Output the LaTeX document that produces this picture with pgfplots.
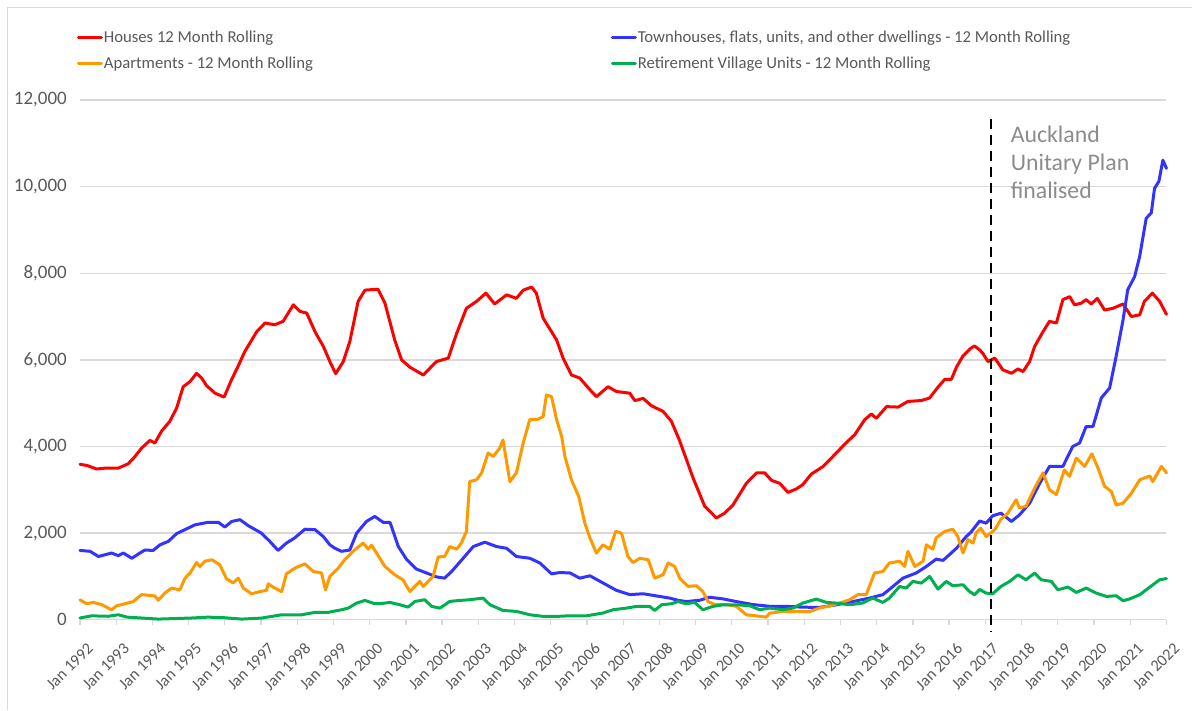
\documentclass[border=0pt]{standalone}
\usepackage{pgfplots}
\pgfplotsset{compat=1.18}
\usepackage{fontspec}
\setmainfont{Carlito}
\definecolor{cRed}{RGB}{255,0,0}
\definecolor{cBlue}{RGB}{51,51,255}
\definecolor{cOrange}{RGB}{255,153,0}
\definecolor{cGreen}{RGB}{0,176,80}
\definecolor{txt}{RGB}{89,89,89}
\definecolor{gridc}{RGB}{217,217,217}
\definecolor{annot}{RGB}{140,140,140}
\begin{document}
\begin{tikzpicture}
\path (0pt,0pt) rectangle (1192pt,710pt);
\draw[gridc, line width=1pt] (7.5pt,0pt) -- (7.5pt,702pt) -- (1192pt,702pt);
\begin{axis}[
  at={(80pt,90pt)}, anchor=south west,
  scale only axis, width=1087pt, height=520pt,
  xmin=1992, xmax=2022, ymin=0, ymax=12000,
  clip=false,
  axis x line*=bottom, axis y line*=left,
  y axis line style={draw=none},
  x axis line style={gridc, line width=1.3pt, -},
  xtick={1992,...,2022},
  xticklabels={Jan 1992,Jan 1993,Jan 1994,Jan 1995,Jan 1996,Jan 1997,Jan 1998,Jan 1999,Jan 2000,Jan 2001,Jan 2002,Jan 2003,Jan 2004,Jan 2005,Jan 2006,Jan 2007,Jan 2008,Jan 2009,Jan 2010,Jan 2011,Jan 2012,Jan 2013,Jan 2014,Jan 2015,Jan 2016,Jan 2017,Jan 2018,Jan 2019,Jan 2020,Jan 2021,Jan 2022},
  xtick align=outside, major tick length=5pt,
  xtick style={gridc, line width=1.3pt},
  ytick={0,2000,4000,6000,8000,10000,12000},
  ytick style={draw=none},
  scaled y ticks=false,
  ymajorgrids, grid style={gridc, line width=1.3pt},
  /pgf/number format/1000 sep={,},
  /pgf/number format/assume math mode=true,
  yticklabel style={font=\fontsize{19}{21}\selectfont, text=txt, anchor=east, inner sep=0pt, xshift=-13pt},
  xticklabel style={font=\fontsize{16.3}{18}\selectfont, text=txt, inner sep=0pt, xshift=6.5pt, yshift=-17pt, rotate=45, anchor=north east},
  legend columns=2,
  legend style={at={(-0.0028,1.1356)}, anchor=north west, draw=none, fill=none, inner sep=0pt, outer sep=0pt,
    font=\fontsize{16.7}{18}\selectfont, text=txt,
    nodes={inner sep=1pt, anchor=west},
    /tikz/every even column/.append style={column sep=297pt},
    row sep=11pt},
  legend image code/.code={\draw[#1, line width=3pt] (0pt,0pt) -- (23pt,0pt);},
  every axis plot/.append style={line width=3pt, line join=round, line cap=round},
]
\addplot[cRed] coordinates {
(1992.00,3590) (1992.2,3560) (1992.46,3480) (1992.7,3500) (1993.06,3500) (1993.33,3600) (1993.5,3750) (1993.70,3960) (1993.93,4140) (1994.07,4080) (1994.25,4350) (1994.48,4580) (1994.67,4890) (1994.85,5380) (1995.04,5500) (1995.22,5690) (1995.36,5580) (1995.50,5400) (1995.73,5230) (1995.98,5140) (1996.19,5550) (1996.37,5860) (1996.55,6190) (1996.88,6650) (1997.11,6850) (1997.38,6810) (1997.61,6890) (1997.89,7270) (1998.07,7120) (1998.26,7080) (1998.49,6650) (1998.72,6310) (1998.90,5960) (1999.06,5680) (1999.27,5960) (1999.45,6420) (1999.68,7350) (1999.87,7610) (2000.05,7620) (2000.23,7630) (2000.42,7310) (2000.69,6460) (2000.88,6000) (2001.11,5830) (2001.48,5650) (2001.84,5960) (2002.17,6040) (2002.40,6610) (2002.67,7190) (2002.95,7350) (2003.21,7540) (2003.45,7290) (2003.78,7500) (2004.05,7420) (2004.24,7610) (2004.47,7680) (2004.60,7540) (2004.79,6960) (2005.02,6650) (2005.16,6460) (2005.34,6040) (2005.57,5650) (2005.80,5580) (2006.08,5310) (2006.26,5150) (2006.58,5380) (2006.81,5270) (2007.18,5230) (2007.32,5060) (2007.55,5110) (2007.78,4940) (2008.10,4810) (2008.33,4580) (2008.55,4150) (2008.93,3270) (2009.25,2620) (2009.57,2350) (2009.80,2460) (2010.03,2650) (2010.40,3150) (2010.68,3390) (2010.91,3390) (2011.09,3220) (2011.32,3150) (2011.55,2940) (2011.78,3020) (2011.96,3120) (2012.19,3360) (2012.52,3540) (2012.79,3770) (2013.16,4090) (2013.39,4270) (2013.67,4620) (2013.85,4750) (2013.99,4650) (2014.27,4920) (2014.59,4910) (2014.86,5040) (2015.23,5060) (2015.46,5120) (2015.69,5370) (2015.88,5550) (2016.06,5550) (2016.20,5830) (2016.38,6090) (2016.60,6270) (2016.70,6320) (2016.84,6230) (2016.93,6150) (2017.07,5960) (2017.26,6040) (2017.48,5770) (2017.72,5690) (2017.90,5790) (2018.04,5730) (2018.22,5960) (2018.36,6310) (2018.59,6650) (2018.77,6890) (2018.96,6850) (2019.14,7390) (2019.33,7460) (2019.46,7270) (2019.65,7310) (2019.78,7390) (2019.92,7290) (2020.09,7420) (2020.29,7150) (2020.52,7190) (2020.80,7290) (2021.03,7000) (2021.26,7040) (2021.39,7350) (2021.61,7540) (2021.81,7350) (2022.0,7050)
};
\addlegendentry{Houses 12 Month Rolling}
\addplot[cBlue] coordinates {
(1992.00,1600) (1992.28,1580) (1992.51,1460) (1992.87,1540) (1993.06,1480) (1993.20,1540) (1993.43,1420) (1993.79,1610) (1994.02,1600) (1994.21,1730) (1994.44,1810) (1994.67,1990) (1994.90,2080) (1995.17,2190) (1995.54,2250) (1995.82,2250) (1996.00,2140) (1996.19,2270) (1996.42,2310) (1996.65,2170) (1997.01,2000) (1997.24,1810) (1997.47,1600) (1997.70,1770) (1997.93,1890) (1998.21,2090) (1998.49,2080) (1998.72,1920) (1998.90,1730) (1999.04,1650) (1999.22,1580) (1999.45,1610) (1999.64,2000) (1999.91,2270) (2000.14,2385) (2000.37,2250) (2000.56,2250) (2000.79,1690) (2001.02,1390) (2001.29,1170) (2001.57,1080) (2001.84,990) (2002.07,960) (2002.30,1150) (2002.58,1420) (2002.86,1690) (2003.18,1790) (2003.50,1690) (2003.78,1650) (2004.05,1460) (2004.42,1420) (2004.70,1310) (2005.02,1060) (2005.25,1090) (2005.53,1080) (2005.80,960) (2006.08,1015) (2006.44,850) (2006.81,680) (2007.18,580) (2007.55,600) (2007.92,550) (2008.28,500) (2008.51,450) (2008.74,420) (2009.11,450) (2009.39,520) (2009.76,480) (2010.12,420) (2010.58,350) (2011.05,310) (2011.50,310) (2011.96,290) (2012.42,285) (2012.88,345) (2013.34,420) (2013.80,500) (2014.17,580) (2014.45,770) (2014.72,960) (2015.09,1080) (2015.37,1230) (2015.64,1400) (2015.83,1370) (2016.20,1650) (2016.47,1920) (2016.60,2020) (2016.84,2280) (2017.02,2230) (2017.20,2400) (2017.43,2460) (2017.72,2270) (2017.94,2420) (2018.22,2690) (2018.50,3150) (2018.77,3540) (2019.14,3540) (2019.41,4000) (2019.60,4080) (2019.78,4460) (2019.97,4460) (2020.20,5120) (2020.43,5350) (2020.61,6080) (2020.80,6920) (2020.93,7620) (2021.12,7920) (2021.26,8390) (2021.44,9270) (2021.58,9390) (2021.67,9960) (2021.79,10120) (2021.90,10610) (2022.0,10420)
};
\addlegendentry{Townhouses, flats, units, and other dwellings - 12 Month Rolling}
\addplot[cOrange] coordinates {
(1992.00,460) (1992.18,370) (1992.37,400) (1992.60,350) (1992.87,230) (1993.01,320) (1993.24,370) (1993.47,420) (1993.70,580) (1994.07,550) (1994.16,450) (1994.35,620) (1994.53,730) (1994.76,690) (1994.90,960) (1995.04,1080) (1995.22,1320) (1995.31,1230) (1995.45,1350) (1995.64,1385) (1995.86,1270) (1996.05,940) (1996.23,850) (1996.37,960) (1996.51,730) (1996.74,600) (1996.97,650) (1997.15,680) (1997.20,830) (1997.34,750) (1997.57,650) (1997.70,1060) (1997.93,1190) (1998.21,1290) (1998.44,1115) (1998.67,1080) (1998.78,690) (1998.90,1000) (1999.13,1190) (1999.31,1385) (1999.54,1580) (1999.82,1770) (1999.96,1630) (2000.05,1720) (2000.19,1540) (2000.42,1230) (2000.69,1040) (2000.92,920) (2001.11,650) (2001.38,885) (2001.48,770) (2001.75,1000) (2001.89,1450) (2002.07,1460) (2002.21,1690) (2002.40,1630) (2002.53,1770) (2002.67,2040) (2002.76,3190) (2002.95,3230) (2003.09,3390) (2003.27,3850) (2003.41,3770) (2003.59,3960) (2003.68,4150) (2003.87,3190) (2004.05,3390) (2004.24,4090) (2004.42,4620) (2004.65,4630) (2004.79,4690) (2004.88,5190) (2005.02,5150) (2005.16,4620) (2005.30,4230) (2005.39,3770) (2005.57,3230) (2005.77,2850) (2005.94,2230) (2006.08,1890) (2006.26,1540) (2006.44,1730) (2006.63,1630) (2006.79,2040) (2006.95,2000) (2007.13,1460) (2007.27,1320) (2007.46,1420) (2007.69,1385) (2007.87,960) (2008.10,1040) (2008.24,1310) (2008.42,1230) (2008.56,960) (2008.79,770) (2009.02,785) (2009.20,650) (2009.34,420) (2009.53,350) (2009.85,350) (2010.12,310) (2010.40,115) (2010.68,90) (2010.95,60) (2011.04,150) (2011.41,190) (2011.78,190) (2012.15,190) (2012.42,270) (2012.70,320) (2012.97,385) (2013.25,460) (2013.48,580) (2013.71,580) (2013.85,885) (2013.94,1080) (2014.17,1115) (2014.35,1310) (2014.63,1350) (2014.77,1230) (2014.86,1580) (2015.05,1230) (2015.28,1350) (2015.37,1730) (2015.55,1630) (2015.64,1890) (2015.88,2040) (2016.10,2090) (2016.24,1920) (2016.38,1540) (2016.52,1850) (2016.66,1770) (2016.74,2000) (2016.87,2115) (2017.02,1920) (2017.14,2000) (2017.26,2080) (2017.43,2320) (2017.62,2460) (2017.85,2770) (2017.94,2580) (2018.12,2620) (2018.36,3040) (2018.59,3390) (2018.77,3000) (2018.96,2890) (2019.18,3460) (2019.32,3310) (2019.51,3730) (2019.74,3540) (2019.94,3830) (2020.11,3500) (2020.29,3080) (2020.48,2960) (2020.61,2650) (2020.80,2690) (2021.03,2920) (2021.26,3230) (2021.54,3320) (2021.62,3190) (2021.86,3540) (2022.0,3390)
};
\addlegendentry{Apartments - 12 Month Rolling}
\addplot[cGreen] coordinates {
(1992.00,40) (1992.32,90) (1992.78,80) (1993.06,115) (1993.3,60) (1993.7,40) (1994.16,15) (1995.08,40) (1995.54,60) (1996.00,46) (1996.46,15) (1997.01,38) (1997.57,115) (1998.12,115) (1998.49,170) (1998.85,170) (1999.22,230) (1999.41,270) (1999.64,385) (1999.87,446) (2000.14,370) (2000.28,370) (2000.56,400) (2000.83,346) (2001.06,292) (2001.25,423) (2001.52,462) (2001.71,308) (2001.94,269) (2002.21,423) (2002.49,446) (2002.76,462) (2003.13,500) (2003.32,346) (2003.68,215) (2004.05,192) (2004.42,115) (2004.79,77) (2005.16,77) (2005.53,92) (2005.99,92) (2006.44,154) (2006.72,231) (2007.09,269) (2007.37,308) (2007.73,308) (2007.87,215) (2008.06,346) (2008.33,369) (2008.51,420) (2008.74,369) (2008.97,400) (2009.20,231) (2009.48,308) (2009.76,346) (2010.12,346) (2010.49,323) (2010.77,231) (2011.04,269) (2011.41,231) (2011.68,269) (2011.96,385) (2012.33,477) (2012.61,400) (2012.88,385) (2013.25,346) (2013.61,385) (2013.89,500) (2014.17,400) (2014.35,500) (2014.63,769) (2014.81,731) (2015.00,885) (2015.23,846) (2015.46,1000) (2015.69,708) (2015.92,885) (2016.10,785) (2016.38,808) (2016.56,654) (2016.70,577) (2016.84,700) (2017.02,615) (2017.20,600) (2017.43,769) (2017.67,885) (2017.90,1038) (2018.12,923) (2018.36,1077) (2018.54,923) (2018.82,885) (2019.00,692) (2019.28,754) (2019.51,631) (2019.78,731) (2020.06,615) (2020.34,538) (2020.61,554) (2020.80,440) (2020.98,480) (2021.26,577) (2021.54,754) (2021.81,923) (2022.0,950)
};
\addlegendentry{Retirement Village Units - 12 Month Rolling}
\draw[black, line width=2.5pt, dash pattern=on 10pt off 6pt] (axis cs:2017.15,11560) -- (axis cs:2017.15,-280);
\end{axis}
\node[anchor=north west, align=left, inner sep=0pt, text=annot, font=\fontsize{23.8}{28}\selectfont] at (1011pt,584pt) {Auckland\\Unitary Plan\\finalised};
\end{tikzpicture}
\end{document}
